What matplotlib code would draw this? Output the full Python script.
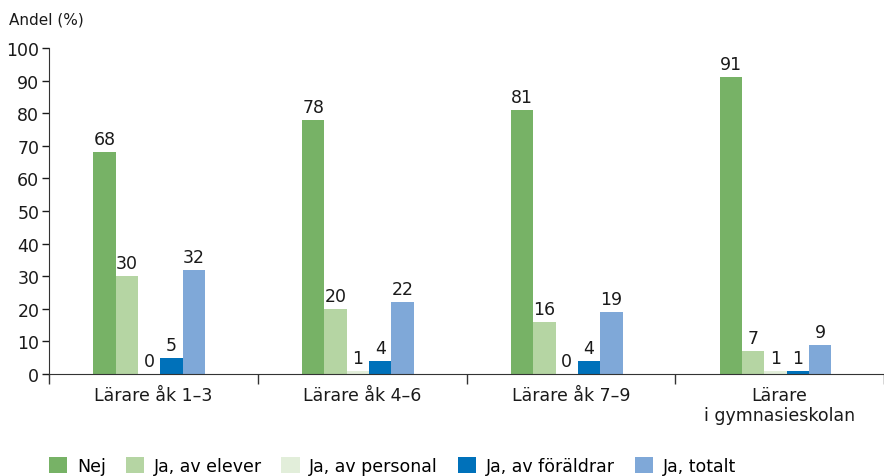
import numpy as np
import matplotlib
matplotlib.use('Agg')
import matplotlib.pyplot as plt

plt.rcParams['font.family'] = ['DejaVu Sans']

groups = ['Lärare åk 1–3', 'Lärare åk 4–6', 'Lärare åk 7–9', 'Lärare\ni gymnasieskolan']
series = ['Nej', 'Ja, av elever', 'Ja, av personal', 'Ja, av föräldrar', 'Ja, totalt']
nej = [68, 78, 81, 91]
elever = [30, 20, 16, 7]
personal = [0, 1, 0, 1]
foraldrar = [5, 4, 4, 1]
totalt = [32, 22, 19, 9]
colors = ['#77b266', '#b5d5a3', '#e2eeda', '#0071ba', '#7fa8d8']

values = [nej, elever, personal, foraldrar, totalt]

W, H = 884, 477
fig = plt.figure(figsize=(W / 100, H / 100), dpi=100)
ax = fig.add_axes([49 / W, 1 - 375 / H, 1 - 49 / W, (375 - 49) / H])

x = np.arange(len(groups))
bw = 0.107
for i, (vals, col, name) in enumerate(zip(values, colors, series)):
    pos = x + (i - 2) * bw - 0.02
    ax.bar(pos, vals, bw, color=col, label=name)
    for p, v in zip(pos, vals):
        ax.text(p, v + 1.2, str(v), ha='center', va='bottom', fontsize=12.5, color='#1a1a1a')

ax.set_ylim(0, 100)
ax.set_xlim(-0.5, (W - 49) / 213 - 0.5)
ax.set_yticks(range(0, 101, 10))
ax.tick_params(axis='y', labelsize=12.5, length=5, width=1, colors='#1a1a1a', pad=2)
ax.set_xticks(np.arange(-0.5, 4, 1))
ax.set_xticklabels([])
ax.tick_params(axis='x', length=7, width=1, colors='#333333')
for g, lab in zip(x, groups):
    ax.text(g, -3.8, lab, ha='center', va='top', fontsize=12.5, color='#1a1a1a',
            linespacing=1.1)

for s in ['top', 'right']:
    ax.spines[s].set_visible(False)
ax.spines['left'].set_color('#333333')
ax.spines['bottom'].set_color('#333333')

fig.text(9 / W, 1 - 20 / H, 'Andel (%)', ha='left', va='center', fontsize=11, color='#1a1a1a')

fig.legend(loc='center left', bbox_to_anchor=(49 / W, 1 - 467 / H), ncol=5, frameon=False,
           fontsize=12.5, handlelength=1.05, handleheight=1.05, handletextpad=0.55,
           columnspacing=1.15, borderaxespad=0, borderpad=0)

fig.savefig('out.png', dpi=100)
